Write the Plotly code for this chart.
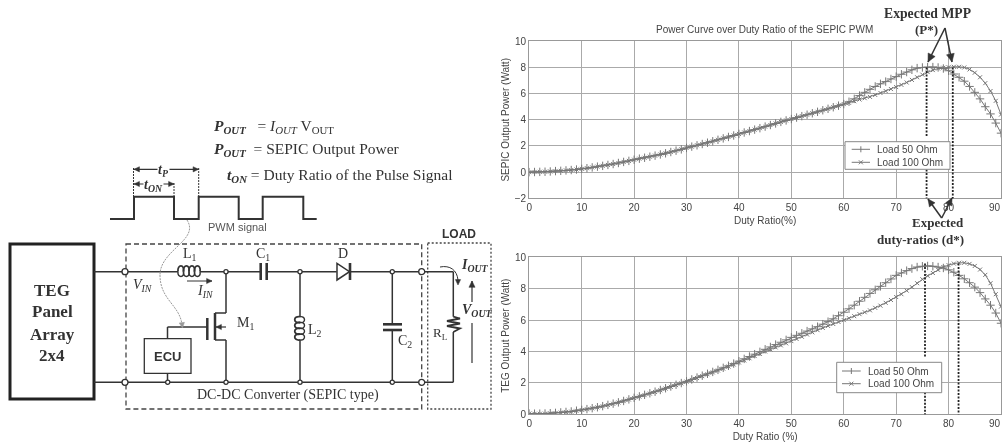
import math
import plotly.graph_objects as go

duty = list(range(0, 91))
series_names = ["Load 50 Ohm", "Load 100 Ohm"]
sepic_50 = [0,0.01,0.02,0.03,0.05,0.08,0.1,0.13,0.16,0.2,0.25,
0.3,0.36,0.42,0.48,0.55,0.62,0.7,0.78,0.86,0.95,
1.03,1.1,1.18,1.26,1.35,1.44,1.54,1.64,1.74,1.85,
1.95,2.05,2.15,2.25,2.36,2.47,2.58,2.69,2.8,2.92,
3.03,3.14,3.25,3.36,3.48,3.6,3.72,3.84,3.95,4.06,
4.17,4.28,4.39,4.5,4.61,4.73,4.84,4.96,5.08,5.2,
5.38,5.6,5.85,6.1,6.33,6.55,6.75,6.92,7.12,7.3,
7.48,7.65,7.82,7.95,8.0,8.03,8.03,8.0,7.92,7.75,
7.5,7.25,6.95,6.55,6.1,5.6,5.0,4.45,3.75,2.98]
sepic_100 = [0,0.01,0.02,0.03,0.05,0.08,0.1,0.13,0.16,0.2,0.25,
0.3,0.36,0.42,0.48,0.55,0.62,0.7,0.78,0.86,0.95,
1.03,1.1,1.18,1.26,1.35,1.44,1.54,1.64,1.74,1.85,
1.95,2.05,2.15,2.25,2.36,2.47,2.58,2.69,2.8,2.92,
3.03,3.14,3.25,3.36,3.48,3.6,3.72,3.84,3.95,4.06,
4.17,4.28,4.39,4.5,4.61,4.73,4.84,4.96,5.08,5.2,
5.3,5.42,5.55,5.65,5.75,5.9,6.05,6.2,6.35,6.5,
6.67,6.85,7.05,7.25,7.45,7.65,7.8,7.92,7.98,8.02,
8.05,8.05,8.0,7.85,7.6,7.25,6.8,6.2,5.45,4.4]
teg_50 = [0.05,0.04,0.04,0.05,0.07,0.09,0.12,0.15,0.18,0.23,0.28,
0.33,0.39,0.45,0.52,0.6,0.68,0.76,0.85,0.95,1.05,
1.14,1.24,1.34,1.44,1.55,1.66,1.77,1.88,1.99,2.1,
2.22,2.34,2.46,2.58,2.7,2.83,2.96,3.09,3.23,3.38,
3.53,3.68,3.83,3.98,4.14,4.29,4.44,4.59,4.74,4.9,
5.03,5.16,5.3,5.44,5.58,5.74,5.9,6.08,6.28,6.5,
6.72,6.95,7.2,7.45,7.7,7.93,8.15,8.38,8.62,8.85,
9.0,9.15,9.28,9.38,9.43,9.45,9.43,9.38,9.32,9.2,
9.05,8.85,8.63,8.38,8.1,7.75,7.35,6.95,6.45,5.8]
teg_100 = [0.05,0.03,0.03,0.04,0.06,0.08,0.11,0.14,0.17,0.22,0.27,
0.32,0.38,0.44,0.51,0.59,0.67,0.75,0.84,0.94,1.04,
1.13,1.22,1.32,1.42,1.53,1.64,1.75,1.86,1.97,2.08,
2.19,2.31,2.43,2.55,2.67,2.79,2.91,3.04,3.17,3.3,
3.43,3.57,3.71,3.85,4.0,4.13,4.26,4.39,4.52,4.66,
4.8,4.94,5.08,5.22,5.36,5.5,5.63,5.75,5.88,6.0,
6.12,6.25,6.38,6.5,6.62,6.78,6.92,7.1,7.28,7.47,
7.65,7.88,8.1,8.35,8.6,8.82,9.0,9.2,9.38,9.5,
9.6,9.65,9.65,9.58,9.45,9.22,8.88,8.35,7.65,6.86]

W, H = 1003, 445
INK = "#333333"
SANS = "Liberation Sans, Arial, sans-serif"
SERIF = "Liberation Serif, Times New Roman, serif"


def px(x):
    return x / W


def py(y):
    return 1 - y / H


fig = go.Figure()
for xa, ya, v50, v100 in [("x", "y", sepic_50, sepic_100), ("x2", "y2", teg_50, teg_100)]:
    common = dict(x=duty, xaxis=xa, yaxis=ya, mode="lines+markers", showlegend=False,
                  line=dict(color="#777777", width=1))
    fig.add_trace(go.Scatter(y=v50, name=series_names[0],
                             marker=dict(symbol="cross-thin", size=6, line=dict(color="#777777", width=1)), **common))
    fig.add_trace(go.Scatter(y=v100, name=series_names[1],
                             marker=dict(symbol="x-thin", size=4, line=dict(color="#777777", width=1)), **common))

shapes, annos = [], []


def seg(x0, y0, x1, y1, color=INK, width=1.5, dash=None):
    shapes.append(dict(type="line", xref="paper", yref="paper", x0=px(x0), y0=py(y0), x1=px(x1), y1=py(y1),
                       line=dict(color=color, width=width, dash=dash or "solid")))


def poly(points, color=INK, width=1.5, dash=None, fill=None):
    d = "M" + " L".join(f"{px(a):.5f},{py(b):.5f}" for a, b in points)
    if fill:
        d += " Z"
    shapes.append(dict(type="path", xref="paper", yref="paper", path=d, fillcolor=fill,
                       line=dict(color=color, width=width, dash=dash or "solid")))


def rect(x0, y0, x1, y1, color=INK, width=1.5, dash=None, fill=None):
    shapes.append(dict(type="rect", xref="paper", yref="paper", x0=px(x0), y0=py(y0), x1=px(x1), y1=py(y1),
                       fillcolor=fill, line=dict(color=color, width=width, dash=dash or "solid")))


def node(x, y, r=2.3, width=1.3):
    shapes.append(dict(type="circle", xref="paper", yref="paper", x0=px(x - r), x1=px(x + r),
                       y0=py(y - r), y1=py(y + r), fillcolor="white", line=dict(color=INK, width=width)))


def curve(x0, y0, c1x, c1y, c2x, c2y, x1, y1, color=INK, width=1, dash=None):
    d = f"M{px(x0):.5f},{py(y0):.5f} C{px(c1x):.5f},{py(c1y):.5f} {px(c2x):.5f},{py(c2y):.5f} {px(x1):.5f},{py(y1):.5f}"
    shapes.append(dict(type="path", xref="paper", yref="paper", path=d,
                       line=dict(color=color, width=width, dash=dash or "solid")))


def text(x, y, s, size=13, font=SERIF, color=INK, xanchor="center", bg=None):
    annos.append(dict(xref="paper", yref="paper", x=px(x), y=py(y), text=s, showarrow=False,
                      xanchor=xanchor, yanchor="middle", bgcolor=bg,
                      borderpad=0, font=dict(family=font, size=size, color=color)))


def head(x1, y1, x0, y0, color, size):
    ang = math.atan2(y1 - y0, x1 - x0)
    pts = [(x1, y1)]
    for sign in (1, -1):
        a = ang + math.pi + sign * 0.45
        pts.append((x1 + size * math.cos(a), y1 + size * math.sin(a)))
    poly(pts, color=color, width=0.5, fill=color)


def arrow(x0, y0, x1, y1, color=INK, width=1.5, both=False, size=6):
    seg(x0, y0, x1, y1, color=color, width=width)
    head(x1, y1, x0, y0, color, size)
    if both:
        head(x0, y0, x1, y1, color, size)


# Source panel
rect(10, 244, 94, 399, color="#222222", width=3)
for yy, word in [(290, "TEG"), (311, "Panel"), (334, "Array"), (355, "2x4")]:
    text(52, yy, f"<b>{word}</b>", size=17)

# Converter and load frames
rect(126, 244, 421.7, 409, color="#444444", width=1.3, dash="5px,3px")
rect(427.7, 243, 491, 409, color="#444444", width=1.3, dash="2px,2px")
text(459, 234, "<b>LOAD</b>", size=12, font=SANS)
text(288, 395, "DC-DC Converter (SEPIC type)", size=14)

# Rails
seg(94, 271.7, 178, 271.7)
seg(200, 271.7, 260.7, 271.7)
seg(266.7, 271.7, 336.7, 271.7)
seg(350, 271.7, 453.3, 271.7)
seg(94, 382.3, 453.3, 382.3)
seg(453.3, 271.7, 453.3, 316.7)
seg(453.3, 332, 453.3, 382.3)

# L1
for i in range(4):
    x0 = 178 + i * 5.5
    curve(x0, 271.7, x0 - 1, 264, x0 + 7, 264, x0 + 5.5, 271.7, width=1.8)
    curve(x0 + 5.5, 271.7, x0 + 7, 278, x0 - 1, 278, x0, 271.7, width=1.4)
text(190, 255, "L<sub>1</sub>", size=14)
text(142, 285, "<i>V<sub>IN</sub></i>", size=14)
text(205, 291, "<i>I<sub>IN</sub></i>", size=14)
arrow(187, 281, 212, 281, width=1, size=6)

# MOSFET and ECU
seg(226, 271.7, 226, 313)
seg(226, 313, 215, 313)
seg(215, 313, 215, 340, width=2.5)
seg(207.3, 318, 207.3, 340, width=2.5)
seg(215, 340, 226, 340)
seg(226, 340, 226, 382.3)
arrow(226, 327, 216, 327, width=1.2, size=6)
seg(167.5, 327, 207.3, 327)
seg(167.5, 327, 167.5, 338.7)
rect(144.3, 338.7, 191, 373.3, width=1.3)
seg(167.5, 373.3, 167.5, 382.3)
text(167.7, 356, "<b>ECU</b>", size=13, font=SANS)
text(245, 323, "M<sub>1</sub>", size=14)
curve(187, 220, 200, 240, 160, 250, 160, 275, color="#999999", width=1, dash="2px,1px")
curve(160, 275, 160, 300, 180, 305, 182, 325, color="#999999", width=1, dash="2px,1px")
head(182.5, 328, 181.5, 320, "#999999", 6)

# C1, L2, D, C2
seg(260.7, 263, 260.7, 280, width=2.6)
seg(266.7, 263, 266.7, 280, width=2.6)
text(263, 254, "C<sub>1</sub>", size=14)
seg(300, 271.7, 300, 316.7)
seg(300, 340, 300, 382.3)
for i in range(4):
    y0 = 316.7 + i * 5.8
    curve(300, y0, 293, y0 - 1, 293, y0 + 7, 300, y0 + 5.8, width=1.8)
    curve(300, y0 + 5.8, 306, y0 + 7, 306, y0 - 1, 300, y0, width=1.4)
text(315, 330, "L<sub>2</sub>", size=14)
poly([(337, 263.5), (337, 280), (349.5, 271.7)], width=1.5, fill="white")
seg(350, 263, 350, 280, width=2.6)
text(343, 253, "D", size=14)
seg(392.3, 271.7, 392.3, 324.3)
seg(392.3, 330, 392.3, 382.3)
seg(383, 324.3, 402, 324.3, width=2.6)
seg(383, 330, 402, 330, width=2.6)
text(405, 341, "C<sub>2</sub>", size=14)

# RL and output quantities
poly([(453.3, 316.7), (460, 318.5), (447, 321), (460, 323.5), (447, 326), (460, 328.5), (453.3, 332)], width=1.8)
text(440, 333, "R<sub>L</sub>", size=13)
text(475, 265, "<i><b>I<sub>OUT</sub></b></i>", size=14)
text(477, 310, "<i><b>V<sub>OUT</sub></b></i>", size=14)
arrow(472, 302, 472, 281, width=1.2, size=7)
seg(472, 323, 472, 363, width=1.2)
curve(440, 267, 450, 265, 457, 270, 458, 280, width=1)
head(458, 285, 458, 278, INK, 6)

# Nodes
for nx, ny in [(226, 271.7), (226, 382.3), (167.7, 382.3), (300, 271.7), (300, 382.3), (392.3, 271.7), (392.3, 382.3)]:
    node(nx, ny, r=2.1)
for nx in (125, 421.7):
    node(nx, 271.7, r=3)
    node(nx, 382.3, r=3)

# PWM waveform
poly([(110, 219), (134, 219), (134, 196.7), (174, 196.7), (174, 219), (198.7, 219), (198.7, 196.7),
      (238.7, 196.7), (238.7, 219), (262.7, 219), (262.7, 196.7), (303.3, 196.7), (303.3, 219), (316.7, 219)],
     width=2)
seg(133.5, 168, 133.5, 196, width=1, dash="2px,1px")
seg(174, 183, 174, 196, width=1, dash="2px,1px")
seg(198.7, 168, 198.7, 196, width=1, dash="2px,1px")
arrow(134, 169.3, 198.5, 169.3, width=1.2, both=True, size=6)
arrow(134, 184, 174, 184, width=1.2, both=True, size=6)
text(163, 170, "<i><b>t<sub>P</sub></b></i>", size=14, bg="white")
text(153, 185, "<i><b>t<sub>ON</sub></b></i>", size=14, bg="white")
text(237, 227, "PWM signal", size=11, font=SANS, color="#555555")

# Equations
text(213, 126, "<b><i>P<sub>OUT</sub></i></b>&nbsp;&nbsp; = <i>I<sub>OUT</sub></i> V<sub>OUT</sub>", size=15.5, xanchor="left")
text(213, 150, "<b><i>P<sub>OUT</sub></i></b>&nbsp; = SEPIC Output Power", size=15.5, xanchor="left")
text(226, 175, "<b><i>t<sub>ON</sub></i></b> = Duty Ratio of the Pulse Signal", size=15.5, xanchor="left")

# Chart annotations
TOP_A, TOP_B = 75.8, 80.8
for xv, y0, y1 in [(TOP_A, 8, 2.7), (TOP_A, 0.2, -2.1), (TOP_B, 8, -2.1)]:
    shapes.append(dict(type="line", xref="x", yref="y", x0=xv, x1=xv, y0=y0, y1=y1,
                       line=dict(color="#222222", width=1.8, dash="2px,1.5px")))
BOT_A, BOT_B = 75.5, 81.9
for xv, y0, y1 in [(BOT_A, 9.6, 3.6), (BOT_A, 1.4, -0.6), (BOT_B, 9.6, -0.5)]:
    shapes.append(dict(type="line", xref="x2", yref="y2", x0=xv, x1=xv, y0=y0, y1=y1,
                       line=dict(color="#222222", width=1.8, dash="2px,1.5px")))
text(927, 14, "<b>Expected MPP</b>", size=13.7)
text(926, 30, "<b>(P*)</b>", size=13)
arrow(945, 28, 928, 62, width=1.5, size=9)
arrow(945, 28, 952, 62, width=1.5, size=9)
text(938, 222.7, "<b>Expected</b>", size=13)
text(920, 239, "<b>duty-ratios (d*)</b>", size=13)
arrow(941.7, 218, 928, 199, width=1.5, size=8)
arrow(941.7, 218, 952, 198, width=1.5, size=8)
text(764, 30, "Power Curve over Duty Ratio of the SEPIC PWM", size=10, font=SANS, color="#444444")
text(1002, 207, "90", size=10, font=SANS, color="#444444", xanchor="right")
text(1002, 423, "90", size=10, font=SANS, color="#444444", xanchor="right")


# Legends, compact as in the reference
def legend(left, top, right, bottom, row1, row2, sample0, sample1, text_x):
    rect(left, top, right, bottom, color="#888888", width=1, fill="white")
    xm = (sample0 + sample1) / 2
    for row, name in [(row1, series_names[0]), (row2, series_names[1])]:
        seg(sample0, row, sample1, row, color="#777777", width=1)
        text(text_x, row, name, size=10, font=SANS, color="#444444", xanchor="left")
    seg(xm, row1 - 3, xm, row1 + 3, color="#777777", width=1)
    seg(xm - 2, row2 - 2, xm + 2, row2 + 2, color="#777777", width=1)
    seg(xm - 2, row2 + 2, xm + 2, row2 - 2, color="#777777", width=1)


legend(845, 141.7, 950, 169.3, 149.3, 162.3, 851.7, 870, 875.7)
legend(836.7, 362.3, 941.7, 392.7, 371, 383.7, 842, 860.7, 866.7)

axis = dict(showgrid=True, gridcolor="#aaaaaa", gridwidth=1.3, zeroline=False, showline=True, linecolor="#999999",
            linewidth=1.3, mirror=True, ticks="", automargin=False, tickfont=dict(family=SANS, size=10, color="#444444"))
title_font = dict(family=SANS, size=10, color="#444444")
xdom = [px(529.3), px(1001)]
fig.update_layout(
    width=W, height=H, autosize=False, margin=dict(l=0, r=0, t=0, b=0), showlegend=False,
    paper_bgcolor="white", plot_bgcolor="white", shapes=shapes, annotations=annos,
    xaxis=dict(domain=xdom, range=[0, 90], dtick=10, anchor="y", **axis,
               title=dict(text="Duty Ratio(%)", font=title_font, standoff=4)),
    yaxis=dict(domain=[py(198.3), py(41.3)], range=[-2, 10], dtick=2, anchor="x", **axis,
               title=dict(text="SEPIC Output Power (Watt)", font=title_font, standoff=3)),
    xaxis2=dict(domain=xdom, range=[0, 90], dtick=10, anchor="y2", **axis,
                title=dict(text="Duty Ratio (%)", font=title_font, standoff=4)),
    yaxis2=dict(domain=[py(414.3), py(257.3)], range=[0, 10], dtick=2, anchor="x2", **axis,
                title=dict(text="TEG Output Power (Watt)", font=title_font, standoff=3)),
)
fig.write_html("out.html", config={"displayModeBar": False},
               post_script="document.body.style.margin='0';document.documentElement.style.overflow='hidden';"
                           "document.querySelector('.plotly-graph-div').style.filter='blur(0.6px)';")
